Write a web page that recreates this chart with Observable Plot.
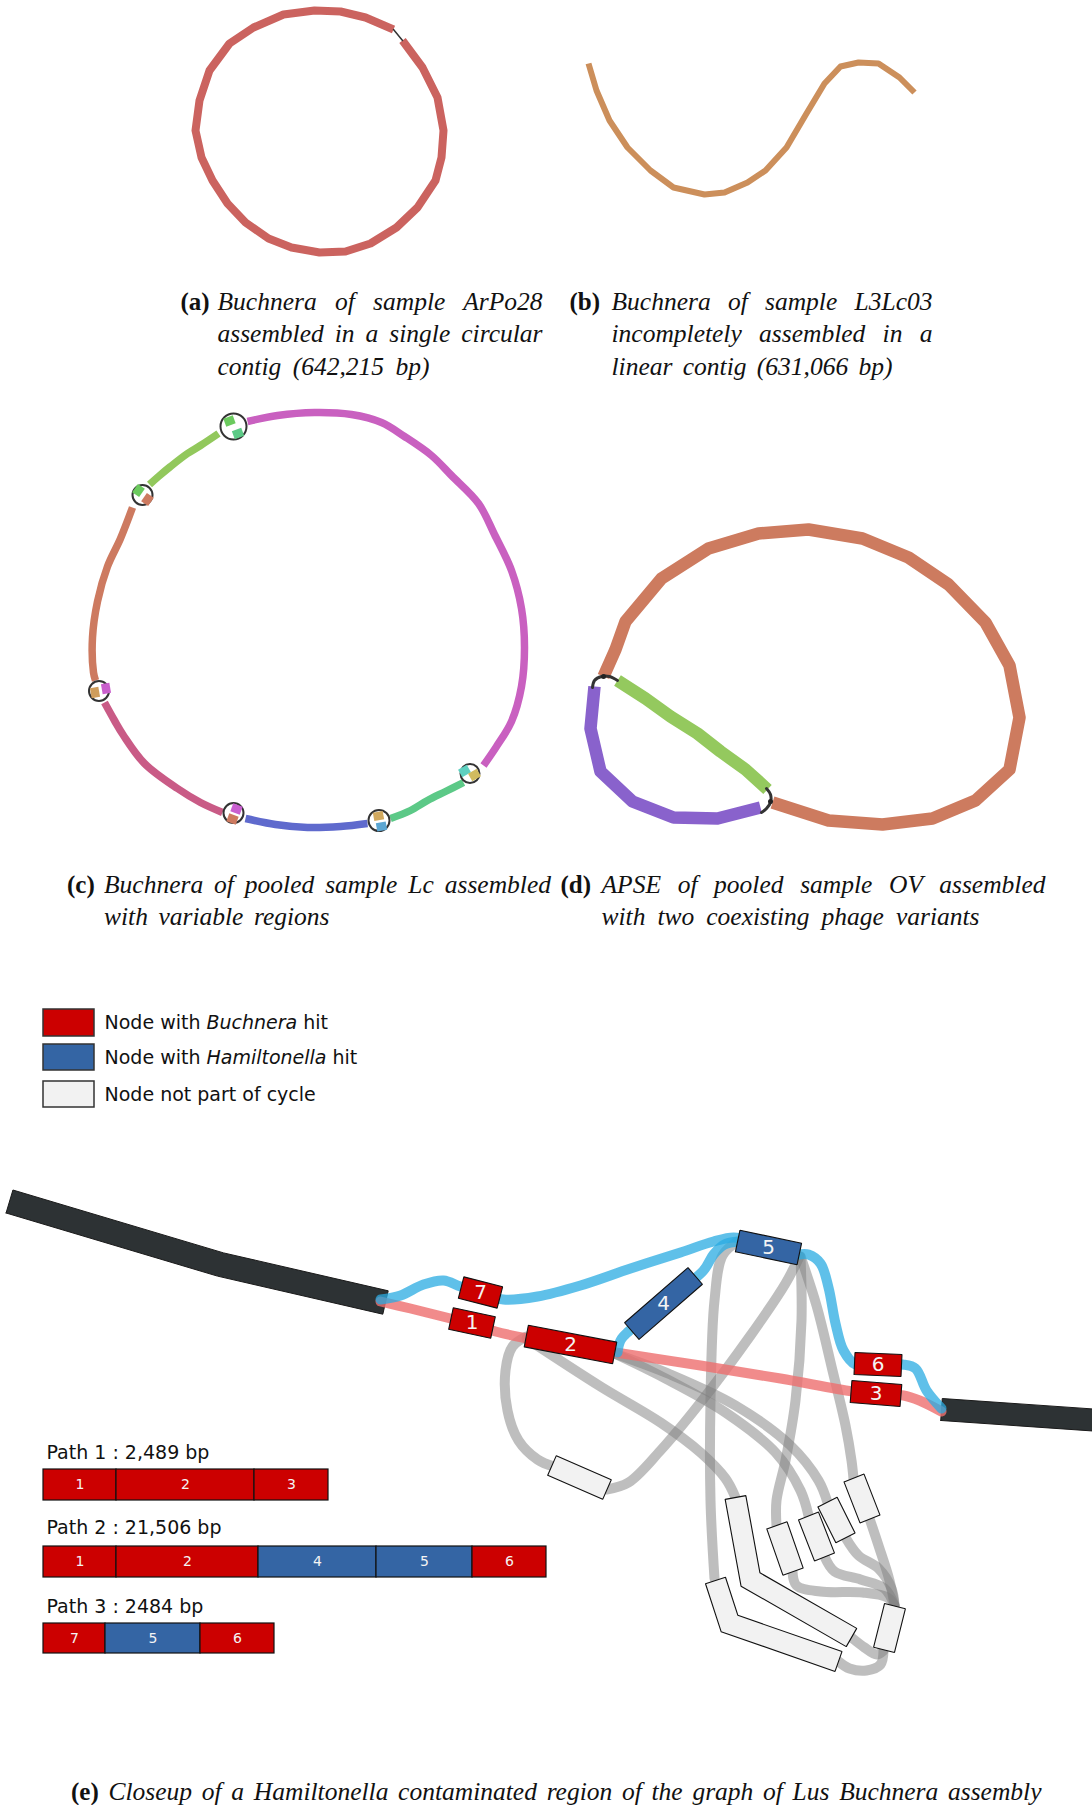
<!DOCTYPE html>
<html><head><meta charset="utf-8">
<script src="https://cdn.jsdelivr.net/npm/d3@7"></script>
<script src="https://cdn.jsdelivr.net/npm/@observablehq/plot@0.6"></script>
<style>body{margin:0;background:#fff}</style>
</head><body><div id="chart"></div>
<script>
// ================= DATA (graph layouts) =================
// (a) circular contig
const contigA = [[402,40],[422,67],[437,97],[443,130],[441,157],[435,180],[417,207],[396,227],[370,243],[345,251],[319,252],[291,247],[268,238],[245,222],[227,203],[212,180],[201,157],[195,130],[199,100],[209,70],[229,43],[253,27],[283,14],[314,10],[340,11],[365,17],[393,29]];
const linkA = [[393,29],[402,40]];
// (b) linear contig
const contigB = [[588,63],[596,90],[609,120],[627,147],[650,170],[673,187],[704,194],[724,192],[747,182],[765,170],[786,147],[806,113],[824,83],[840,66],[858,62],[878,63],[899,77],[914,92]];
// (c) variable regions
const cMagenta = [[247,421],[277,415],[314,412],[351,414],[381,422],[404,436],[431,455],[451,475],[478,503],[494,534],[511,570],[521,608],[524,647],[521,686],[511,721],[496,746],[483,765]];
const cLightGreen = [[218,433],[200,445],[187,453],[170,466],[158,476],[149,484]];
const cBrown = [[132,507],[120,538],[107,566],[97,601],[92,637],[93,672],[95,680]];
const cPink = [[104,702],[114,720],[123,735],[144,763],[177,788],[200,802],[222,812]];
const cBlue = [[245,818],[275,824],[307,827],[340,826],[367,823]];
const cGreen = [[390,818],[410,810],[427,800],[445,791],[463,782]];
const cSegColors = ["#c960c0","#92c85c","#cd7a60","#c95b86","#5f6acd","#5cc987"];
const ringX = [233,142,98.5,233,378.5,469.5];
const ringY = [426,494.5,690.5,812.5,820,773];
const ringR = [13,10,10,10,10.5,9.5];
const pieceX = [229,237.5,138,147,94.5,105.5,236,232,378,381,464,474];
const pieceY = [420.5,433,490,499,692,688,808.5,818.5,815.5,826,770.5,774.5];
const pieceAngle = [-20,-20,-55,-55,80,80,20,20,-10,-10,-30,-30];
const pieceColor = ["#6bca5e","#5cca86","#6bca5e","#cd7a60","#cf9d5c","#c95fcc","#c95fd0","#cd7a60","#d1a95f","#5ba6d2","#5ed0c0","#d0bb5f"];
// (d) phage variants
const dBrown = [[603,676],[615,649],[625,621],[661,578],[708,548],[758,533],[808,529],[862,538],[908,557],[948,584],[985,622],[1009,665],[1019,717],[1009,769],[975,800],[932,818],[882,824],[828,820],[772,802]];
const dGreen = [[617,680],[645,698],[670,716],[697,733],[720,751],[745,769],[767,789]];
const dPurple = [[594,686],[590,728],[600,771],[632,801],[673,817],[717,818],[760,807]];
const dArc1 = [[592,687],[594,680],[601,676],[609,676],[617,680]];
const dArc2 = [[766,788],[770,794],[770,802],[766,808],[761,812]];
// (e) closeup graph
const darkLeft = [[9,1201],[220,1264],[385,1302]];
const darkRight = [[941,1409],[1100,1420]];
const nodeId = ["7","1","2","4","5","6","3"];
const nodeHit = ["B","B","B","H","H","B","B"];
const nodeCx = [480,471.5,570,663,768,877.5,875.5];
const nodeCy = [1292,1322.5,1344,1303,1247,1364,1393];
const nodeLen = [40,43,90,84,63,47,50];
const nodeAngle = [14.4,12,10.8,-41,11.8,2.5,4.5];
const whiteCx = [784.5,816,836,861.5,889,579];
const whiteCy = [1548,1536,1519.5,1498,1627.5,1477];
const whiteLen = [49,44,40,44,45,60];
const whiteAngle = [70.8,68.7,63.4,68.7,104,23.6];
const whiteBent = [[[735,1497],[750,1579],[851,1637]],[[715,1580],[729,1623],[838,1661]]];
const pinkPath = [[380,1301],[410,1308],[450,1318],[472,1323],[495,1331],[527,1338],[570,1345],[615,1352],[700,1365],[780,1378],[852,1391],[880,1394],[903,1395],[919,1400],[941,1411]];
const bluePaths = [
  [[380,1299],[400,1295],[423,1284],[443,1280],[460,1286],[480,1292],[503,1299],[537,1296],[580,1285],[630,1268],[680,1252],[713,1241],[733,1237],[750,1240],[768,1247]],
  [[738,1241],[724,1244],[713,1254],[703,1270],[663,1303],[628,1331],[620,1340],[617,1352]],
  [[798,1254],[808,1254],[820,1263],[828,1287],[835,1323],[843,1350],[855,1364],[877,1364],[902,1364],[915,1368],[926,1390],[941,1408]]
];
const grayEdges = [
  [[526,1336],[512,1346],[505,1370],[507,1410],[518,1440],[537,1459],[553,1466]],
  [[606,1489],[628,1482],[660,1450],[700,1402],[750,1335],[785,1283],[799,1256]],
  [[737,1241],[722,1255],[714,1300],[710,1400],[710,1500],[714,1578]],
  [[526,1338],[600,1386],[660,1422],[700,1452],[725,1478],[735,1497]],
  [[800,1256],[801,1320],[795,1400],[785,1460],[776,1500],[776,1525]],
  [[800,1256],[816,1305],[832,1370],[845,1425],[851,1460],[853,1478]],
  [[614,1353],[665,1378],[725,1412],[775,1452],[800,1490],[808,1515]],
  [[614,1353],[670,1374],[735,1405],[790,1445],[818,1480],[827,1502]],
  [[869,1518],[878,1545],[889,1580],[894,1605]],
  [[792,1571],[796,1585],[820,1591],[862,1592],[887,1597],[894,1605]],
  [[824,1556],[834,1571],[860,1579],[884,1588],[894,1605]],
  [[845,1537],[858,1555],[878,1568],[891,1588],[894,1605]],
  [[883,1650],[880,1664],[866,1670],[849,1668],[838,1661]],
  [[851,1637],[864,1647],[876,1654],[883,1650]]
];
// legend
const legendPre = ["Node with ","Node with ","Node not part of cycle"];
const legendItalic = ["Buchnera","Hamiltonella",""];
const legendPost = [" hit"," hit",""];
const legendFill = ["#cc0000","#3465a4","#f2f2f2"];
// paths
const pathTitles = ["Path 1 : 2,489 bp","Path 2 : 21,506 bp","Path 3 : 2484 bp"];
const pathNodes = [["1","2","3"],["1","2","4","5","6"],["7","5","6"]];
const pathLens = [[73,138,74],[73,142,118,96,74],[62,95,74]];
// captions
const capLabels = ["(a)","(b)","(c)","(d)","(e)"];
const capText = ["Buchnera of sample ArPo28","assembled in a single circular","contig (642,215 bp)","Buchnera of sample L3Lc03","incompletely assembled in a","linear contig (631,066 bp)","Buchnera of pooled sample Lc assembled","with variable regions","APSE of pooled sample OV assembled","with two coexisting phage variants","Closeup of a Hamiltonella contaminated region of the graph of Lus Buchnera assembly"];

// ================= LAYOUT =================
const W = 1092, H = 1805;
const capLabelX = [180,569,66.5,560,70.5], capLabelY = [301.5,301.5,884,884,1791];
const capX = [217,217,217,611,611,611,103.5,103.5,601,601,108];
const capY = [301.5,333.7,366,301.5,333.7,366,884,916,884,916,1791];
const capW = [325,325,212,321,321,281,447,225.5,444,378,933];
const legendY = [[1009,1036],[1044,1070],[1081,1107]];
const pathTitleY = [1452,1527,1606];
const pathBarY = [[1469,1500],[1546,1577],[1623,1653]];

function band(pts, w) {
  const h = w / 2, L = [], R = [];
  const nrm = (a, b) => { const dx = b[0]-a[0], dy = b[1]-a[1], l = Math.hypot(dx, dy); return [-dy/l, dx/l]; };
  for (let i = 0; i < pts.length; i++) {
    let nx, ny;
    if (i === 0) [nx, ny] = nrm(pts[0], pts[1]);
    else if (i === pts.length - 1) [nx, ny] = nrm(pts[i-1], pts[i]);
    else {
      const a = nrm(pts[i-1], pts[i]), b = nrm(pts[i], pts[i+1]);
      let mx = a[0]+b[0], my = a[1]+b[1]; const ml = Math.hypot(mx, my); mx /= ml; my /= ml;
      const s = 1 / (mx*a[0] + my*a[1]); nx = mx*s; ny = my*s;
    }
    L.push([pts[i][0]+nx*h, pts[i][1]+ny*h]); R.push([pts[i][0]-nx*h, pts[i][1]-ny*h]);
  }
  return [...L, ...R.reverse(), L[0]];
}
function rectPoly(cx, cy, len, wid, deg) {
  const a = deg*Math.PI/180, dx = Math.cos(a)*len/2, dy = Math.sin(a)*len/2;
  return band([[cx-dx, cy-dy], [cx+dx, cy+dy]], wid);
}
const rows = (polys, extra = () => ({})) => polys.flatMap((p, i) => p.map(([x, y]) => ({x, y, id: i, ...extra(i)})));

const cSegRows = rows([cMagenta, cLightGreen, cBrown, cPink, cBlue, cGreen], i => ({color: cSegColors[i]}));
const dSegRows = rows([dBrown, dGreen, dPurple], i => ({color: ["#cd7b5f","#94c95e","#8962cc"][i]}));
const ringRows = ringX.map((x, i) => ({x, y: ringY[i], r: ringR[i]}));
const pieceRows = pieceX.map((x, i) => {
  const a = pieceAngle[i]*Math.PI/180, dx = Math.cos(a)*5, dy = Math.sin(a)*5;
  return {x1: x-dx, y1: pieceY[i]-dy, x2: x+dx, y2: pieceY[i]+dy, color: pieceColor[i]};
});
const darkRows = rows([band(darkLeft, 24), band(darkRight, 22)]);
const nodePolys = nodeId.map((_, i) => rectPoly(nodeCx[i], nodeCy[i], nodeLen[i], 22, nodeAngle[i]));
const redRows = rows(nodePolys.filter((_, i) => nodeHit[i] === "B"));
const blueRows = rows(nodePolys.filter((_, i) => nodeHit[i] === "H"));
const whiteRows = rows([...whiteCx.map((x, i) => rectPoly(x, whiteCy[i], whiteLen[i], 21.5, whiteAngle[i])), ...whiteBent.map(p => band(p, 21))]);
const nodeLabelRows = nodeId.map((t, i) => ({x: nodeCx[i], y: nodeCy[i], t}));
const barRows = [], barLabelRows = [];
pathNodes.forEach((nodes, p) => {
  let x = 43;
  nodes.forEach((n, j) => {
    const x2 = x + pathLens[p][j];
    barRows.push({x1: x, x2, y1: pathBarY[p][0], y2: pathBarY[p][1], fill: (n === "4" || n === "5") ? "#3465a4" : "#cc0000"});
    barLabelRows.push({x: (x + x2)/2, y: (pathBarY[p][0] + pathBarY[p][1])/2, t: n});
    x = x2;
  });
});
const legendFull = legendPre.map((d, i) => d + legendItalic[i] + legendPost[i]);

const svg = Plot.plot({
  width: W, height: H, margin: 0,
  x: {domain: [0, W], range: [0, W], axis: null},
  y: {domain: [0, H], range: [0, H], axis: null},
  color: {type: "identity"},
  r: {type: "identity"},
  marks: [
    // (a)
    Plot.line(contigA, {stroke: "#cb635f", strokeWidth: 8, strokeLinecap: "butt"}),
    Plot.line(linkA, {stroke: "#333", strokeWidth: 1.5}),
    // (b)
    Plot.line(contigB, {stroke: "#cc8f5b", strokeWidth: 6, strokeLinecap: "butt"}),
    // (c)
    Plot.line(cSegRows, {x: "x", y: "y", z: "id", stroke: "color", strokeWidth: 7.5, strokeLinecap: "butt", curve: "catmull-rom"}),
    Plot.dot(ringRows, {x: "x", y: "y", r: "r", stroke: "#333", strokeWidth: 2, fill: "none"}),
    Plot.link(pieceRows, {x1: "x1", y1: "y1", x2: "x2", y2: "y2", stroke: "color", strokeWidth: 8.5, strokeLinecap: "butt"}),
    // (d)
    Plot.line(dSegRows, {x: "x", y: "y", z: "id", stroke: "color", strokeWidth: 12.5, strokeLinecap: "butt"}),
    Plot.line(rows([dArc1, dArc2]), {x: "x", y: "y", z: "id", stroke: "#333", strokeWidth: 3, curve: "catmull-rom"}),
    Plot.dot([[603,676],[770,801]], {r: 2.5, fill: "#222"}),
    // (e) legend
    Plot.rect(legendFill, {x1: 43, x2: 94, y1: (d, i) => legendY[i][0], y2: (d, i) => legendY[i][1], fill: d => d, stroke: "#333", strokeWidth: 1.5}),
    Plot.text(legendFull, {x: 104, y: (d, i) => (legendY[i][0] + legendY[i][1])/2, text: d => d, textAnchor: "start", fontSize: 19, fontFamily: "DejaVu Sans", fill: "#111"}),
    // (e) graph
    Plot.line(darkRows, {x: "x", y: "y", z: "id", fill: "#2d3234", stroke: "#1a1a1a", strokeWidth: 1, curve: "linear"}),
    Plot.line(rows(grayEdges), {x: "x", y: "y", z: "id", stroke: "#7d7d7d", strokeOpacity: 0.5, strokeWidth: 10, curve: "catmull-rom"}),
    Plot.line(pinkPath, {stroke: "#ee6e6e", strokeOpacity: 0.8, strokeWidth: 10, curve: "catmull-rom"}),
    Plot.line(rows(bluePaths), {x: "x", y: "y", z: "id", stroke: "#29abe2", strokeOpacity: 0.75, strokeWidth: 10, curve: "catmull-rom"}),
    Plot.line(whiteRows, {x: "x", y: "y", z: "id", fill: "#f2f2f2", stroke: "#111", strokeWidth: 1.1, strokeLinejoin: "miter"}),
    Plot.line(redRows, {x: "x", y: "y", z: "id", fill: "#cc0000", stroke: "#111", strokeWidth: 1.1, strokeLinejoin: "miter"}),
    Plot.line(blueRows, {x: "x", y: "y", z: "id", fill: "#3465a4", stroke: "#111", strokeWidth: 1.1, strokeLinejoin: "miter"}),
    Plot.text(nodeLabelRows, {x: "x", y: "y", text: "t", fill: "#f4f4f4", fontSize: 20, fontFamily: "DejaVu Sans"}),
    // paths
    Plot.text(pathTitles, {x: 46, y: (d, i) => pathTitleY[i], text: d => d, textAnchor: "start", fontSize: 19, fontFamily: "DejaVu Sans", fill: "#111"}),
    Plot.rect(barRows, {x1: "x1", x2: "x2", y1: "y1", y2: "y2", fill: "fill", stroke: "#111", strokeWidth: 1.2}),
    Plot.text(barLabelRows, {x: "x", y: "y", text: "t", fill: "#f4f4f4", fontSize: 14, fontFamily: "DejaVu Sans"}),
    // captions
    Plot.text(capLabels, {x: (d, i) => capLabelX[i], y: (d, i) => capLabelY[i], text: d => d, textAnchor: "start", fontSize: 25, fontWeight: "bold", fontFamily: "Liberation Serif", fill: "#111"}),
    Plot.text(capText, {x: (d, i) => capX[i], y: (d, i) => capY[i], text: d => d, textAnchor: "start", fontSize: 25.5, fontStyle: "italic", fontFamily: "Liberation Serif", fill: "#111"})
  ]
});
document.getElementById("chart").append(svg);
// styling pass: italics inside legend labels, justified caption lines (word spacing)
d3.select(svg).selectAll("text").each(function() {
  const t = d3.select(this), s = this.textContent;
  const li = legendFull.indexOf(s);
  if (li >= 0 && legendItalic[li]) {
    t.text(null);
    t.append("tspan").text(legendPre[li]);
    t.append("tspan").attr("font-style", "italic").text(legendItalic[li]);
    t.append("tspan").text(legendPost[li]);
  }
  const ci = capText.indexOf(s);
  if (ci >= 0) {
    const natural = this.getComputedTextLength();
    const spaces = (s.match(/ /g) || []).length;
    if (natural < capW[ci] && spaces > 0) t.attr("word-spacing", (capW[ci] - natural) / spaces);
    else t.attr("textLength", capW[ci]).attr("lengthAdjust", "spacingAndGlyphs");
  }
});
</script></body></html>
